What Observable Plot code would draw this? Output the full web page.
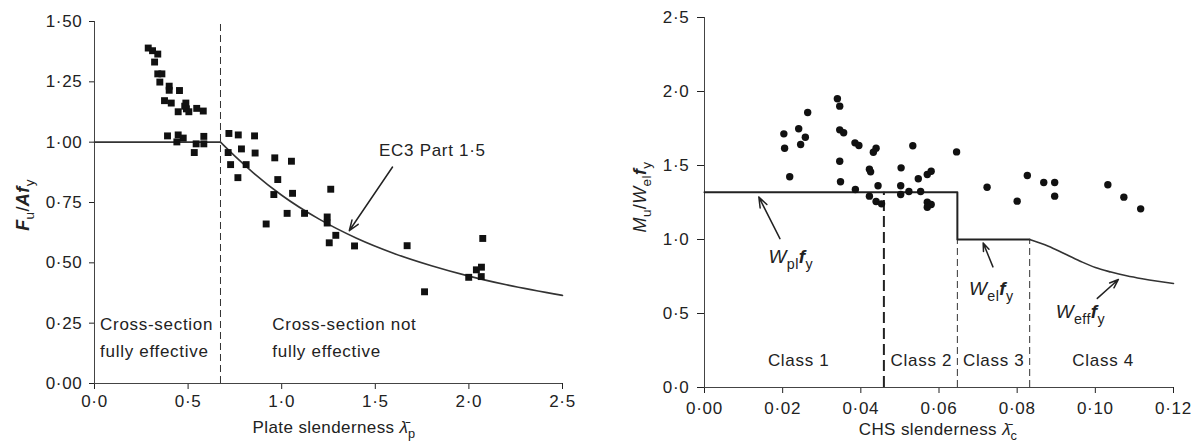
<!DOCTYPE html>
<html><head><meta charset="utf-8">
<script src="https://cdn.jsdelivr.net/npm/d3@7"></script>
<script src="https://cdn.jsdelivr.net/npm/@observablehq/plot@0.6"></script>
<style>
body{margin:0;background:#fff;}
#wrap{display:flex;width:1197px;height:444px;overflow:hidden;}
svg text{font-family:"Liberation Sans",Arial,sans-serif;letter-spacing:0.7px;}
svg text.rich{letter-spacing:0.4px;}
svg text.rich tspan.lam{letter-spacing:0;}
</style></head><body><div id="wrap"></div><script>
// ---------- Left panel data ----------
const leftX = [0.287,0.310,0.338,0.321,0.338,0.360,0.349,0.399,0.399,0.454,0.374,0.410,0.488,0.482,0.491,0.447,0.504,0.546,0.581,
  0.390,0.447,0.474,0.440,0.543,0.584,0.584,0.533,
  0.718,0.768,0.855,0.714,0.785,0.858,0.727,0.810,0.766,0.963,1.052,0.979,0.958,1.058,0.917,1.029,1.122,1.262,1.243,1.243,1.289,1.254,1.389,
  1.670,1.763,2.074,1.999,2.040,2.067,2.066];
const leftY = [1.390,1.379,1.365,1.332,1.283,1.283,1.249,1.232,1.215,1.214,1.172,1.162,1.162,1.149,1.138,1.126,1.126,1.140,1.129,
  1.026,1.030,1.017,1.001,0.993,1.024,0.993,0.957,
  1.036,1.030,1.026,0.957,0.972,0.955,0.907,0.907,0.853,0.935,0.921,0.845,0.783,0.788,0.661,0.705,0.705,0.805,0.690,0.665,0.614,0.583,0.570,
  0.571,0.380,0.601,0.440,0.471,0.482,0.443];
const ec3FlatX = [0, 0.673];
const ec3FlatY = [1.0, 1.0];
const ec3X = [0.673,0.75,0.85,1.0,1.2,1.4,1.6,1.8,2.0,2.2,2.5];
const ec3Y = [1.0,0.942,0.872,0.78,0.681,0.602,0.539,0.488,0.445,0.409,0.365];
const leftLimit = 0.673;
const leftXTicks = [0,0.5,1,1.5,2,2.5];
const leftYTicks = [0,0.25,0.5,0.75,1,1.25,1.5];
const leftNotes = ["Cross-section", "fully effective", "Cross-section not", "fully effective"];
const leftNoteX = [0.03, 0.03, 0.95, 0.95];
const leftNoteY = [0.243, 0.132, 0.243, 0.132];

// ---------- Right panel data ----------
const rightX = [0.0203,0.0205,0.0218,0.0241,0.0246,0.0258,0.0264,0.0340,0.0346,0.0346,0.0356,0.0346,0.0348,0.0385,0.0395,0.0386,
  0.0422,0.0425,0.0422,0.0432,0.0439,0.0444,0.0439,0.0453,0.0503,0.0502,0.0502,0.0523,0.0533,0.0547,0.0553,0.0570,0.0580,0.0570,0.0580,0.0570,
  0.0645,0.0723,0.0800,0.0826,0.0868,0.0896,0.0896,0.1032,0.1073,0.1116];
const rightY = [1.714,1.617,1.424,1.748,1.642,1.691,1.858,1.951,1.901,1.741,1.721,1.529,1.390,1.653,1.635,1.338,
  1.475,1.457,1.293,1.590,1.617,1.363,1.257,1.241,1.484,1.363,1.304,1.324,1.633,1.410,1.324,1.439,1.461,1.252,1.236,1.218,
  1.592,1.353,1.259,1.432,1.385,1.385,1.293,1.370,1.286,1.207];
const stepX = [0, 0.0647, 0.0647, 0.0832];
const stepY = [1.32, 1.32, 1.0, 1.0];
const weffX = [0.0832,0.088,0.092,0.096,0.100,0.104,0.108,0.112,0.116,0.120];
const weffY = [1.0,0.955,0.905,0.855,0.81,0.78,0.755,0.735,0.718,0.703];
const class12 = 0.0459;
const classBounds = [0.0647, 0.0832];
const classNames = ["Class 1","Class 2","Class 3","Class 4"];
const classPos = [0.0241,0.0555,0.0740,0.1020];
const rightXTicks = [0,0.02,0.04,0.06,0.08,0.10,0.12];
const rightYTicks = [0,0.5,1,1.5,2,2.5];

const dot = f => d => d3.format(f)(d).replace(".", "\u00B7");
const zip = (xs, ys) => xs.map((x, i) => ({x, y: ys[i]}));
const INK = "#222";
const FONT = "Liberation Sans, Arial, sans-serif";
const FS = 17;

function rich(svg, x, y, parts, size, anchor, rotate) {
  const t = d3.select(svg).append("text").attr("class", "rich")
    .attr("x", x).attr("y", y).attr("font-size", size).attr("fill", INK)
    .attr("text-anchor", anchor || "start").style("font-family", FONT);
  if (rotate) t.attr("transform", `rotate(-90 ${x} ${y})`);
  let shift = 0;
  for (const p of parts) {
    const s = t.append("tspan").text(p.t);
    const target = p.sub ? size * 0.3 : 0;
    s.attr("dy", target - shift); shift = target;
    if (p.sub) s.attr("font-size", size * 0.75);
    if (p.i) s.attr("font-style", "italic");
    if (p.b) s.attr("font-weight", "bold");
    if (p.lam) s.attr("class", "lam");
  }
}

// ---------- Left plot ----------
const left = Plot.plot({
  width: 600, height: 444,
  marginLeft: 94, marginRight: 38, marginTop: 21, marginBottom: 61,
  style: {fontSize: FS + "px", fontFamily: FONT, color: INK, background: "white"},
  x: {domain: [0, 2.5]},
  y: {domain: [0, 1.5]},
  marks: [
    Plot.axisX({ticks: leftXTicks, tickFormat: dot(".1f"), tickSize: 6, tickPadding: 5, label: null, fontSize: FS}),
    Plot.axisY({ticks: leftYTicks, tickFormat: dot(".2f"), tickSize: 5, tickPadding: 7, label: null, fontSize: FS}),
    Plot.ruleX([0], {stroke: "#444"}),
    Plot.ruleY([0], {stroke: "#444"}),
    Plot.ruleX([leftLimit], {y1: 0, y2: 1.5, stroke: "#333", strokeDasharray: "7,4"}),
    Plot.line(zip(ec3FlatX, ec3FlatY), {x: "x", y: "y", stroke: "#333", strokeWidth: 1.6}),
    Plot.line(zip(ec3X, ec3Y), {x: "x", y: "y", stroke: "#333", strokeWidth: 1.6, curve: "monotone-x"}),
    Plot.dot(zip(leftX, leftY), {x: "x", y: "y", symbol: "square", r: 3.9, fill: "#111"}),
    Plot.text(leftNotes.map((t, i) => ({t, x: leftNoteX[i], y: leftNoteY[i]})),
      {x: "x", y: "y", text: "t", textAnchor: "start", fontSize: FS, fill: INK}),
    Plot.text([{x: 1.52, y: 0.967, t: "EC3 Part 1\u00B75"}], {x: "x", y: "y", text: "t", textAnchor: "start", fontSize: FS, fill: INK}),
    Plot.arrow([{x1: 1.592, y1: 0.897, x2: 1.361, y2: 0.633}], {x1: "x1", y1: "y1", x2: "x2", y2: "y2", stroke: "#222", strokeWidth: 1.5, headLength: 11, headAngle: 40})
  ]
});

// ---------- Right plot ----------
const right = Plot.plot({
  width: 597, height: 444,
  marginLeft: 104, marginRight: 24, marginTop: 17, marginBottom: 57,
  style: {fontSize: FS + "px", fontFamily: FONT, color: INK, background: "white"},
  x: {domain: [0, 0.12]},
  y: {domain: [0, 2.5]},
  marks: [
    Plot.axisX({ticks: rightXTicks, tickFormat: dot(".2f"), tickSize: 6, tickPadding: 8, label: null, fontSize: FS}),
    Plot.axisY({ticks: rightYTicks, tickFormat: dot(".1f"), tickSize: 7, tickPadding: 8, label: null, fontSize: FS}),
    Plot.ruleX([0], {stroke: "#444"}),
    Plot.ruleY([0], {stroke: "#444"}),
    Plot.ruleX([class12], {y1: 0, y2: 1.32, stroke: "#222", strokeWidth: 2, strokeDasharray: "11,5"}),
    Plot.ruleX(classBounds, {y1: 0, y2: 1.0, stroke: "#333", strokeWidth: 1, strokeDasharray: "7,4"}),
    Plot.line(zip(stepX, stepY), {x: "x", y: "y", stroke: "#222", strokeWidth: 2}),
    Plot.line(zip(weffX, weffY), {x: "x", y: "y", stroke: "#333", strokeWidth: 1.6, curve: "monotone-x"}),
    Plot.dot(zip(rightX, rightY), {x: "x", y: "y", symbol: "circle", r: 3.7, fill: "#111"}),
    Plot.text(classNames.map((t, i) => ({t, x: classPos[i], y: 0.18})), {x: "x", y: "y", text: "t", fontSize: FS, fill: INK}),
    Plot.arrow([
      {x1: 0.0193, y1: 1.006, x2: 0.0139, y2: 1.287},
      {x1: 0.0738, y1: 0.815, x2: 0.0713, y2: 0.977},
      {x1: 0.1005, y1: 0.602, x2: 0.1059, y2: 0.730}
    ], {x1: "x1", y1: "y1", x2: "x2", y2: "y2", stroke: "#222", strokeWidth: 1.5, headLength: 11, headAngle: 40})
  ]
});

document.getElementById("wrap").append(left, right);

// rich-text labels
{
  rich(left, 29, 205, [{t:"F", i:1, b:1},{t:"u", sub:1},{t:"/"},{t:"A", i:1, b:1},{t:"f", i:1, b:1},{t:"y", sub:1}], 18, "middle", true);
  rich(left, 334, 433, [{t:"Plate slenderness "},{t:"\u03BB\u0304", i:1, lam:1},{t:"p", sub:1}], FS, "middle");
}
{
  const sx = right.scale("x"), sy = right.scale("y");
  rich(right, 46, 197, [{t:"M", i:1},{t:"u", sub:1},{t:"/"},{t:"W", i:1},{t:"el", sub:1},{t:"f", i:1, b:1},{t:"y", sub:1}], 18, "middle", true);
  rich(right, 338, 435, [{t:"CHS slenderness "},{t:"\u03BB\u0304", i:1, lam:1},{t:"c", sub:1}], FS, "middle");
  const lbl = (x, y, sub) => rich(right, sx.apply(x), sy.apply(y), [{t:"W", i:1},{t:sub, sub:1},{t:"f", i:1, b:1},{t:"y", sub:1}], 19, "middle");
  lbl(0.0222, 0.835, "pl");
  lbl(0.0735, 0.62, "el");
  lbl(0.0963, 0.465, "eff");
}
</script></body></html>
